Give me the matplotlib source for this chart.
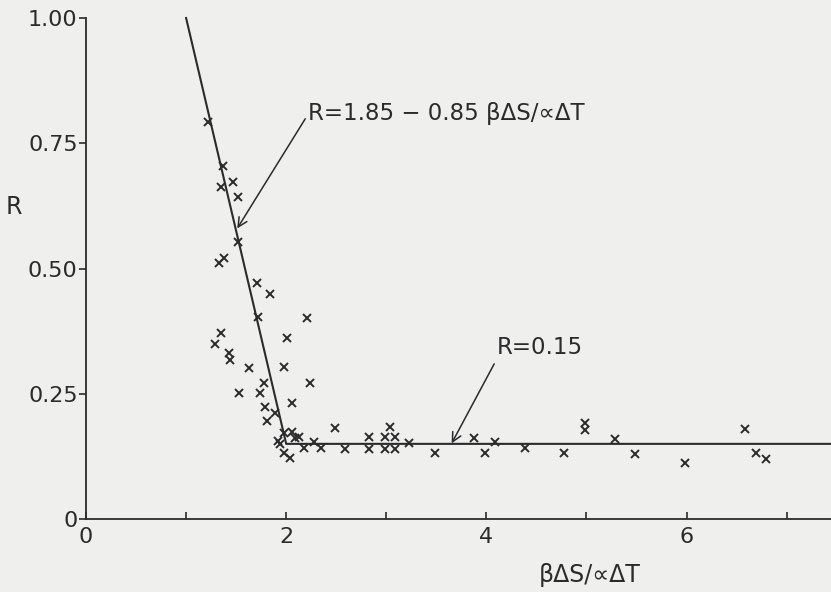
import matplotlib
matplotlib.use("Agg")
from matplotlib import pyplot as plt

# measured points, beta dS / alpha dT  vs  R
x_pts = [1.22, 1.37, 1.47, 1.35, 1.52, 1.52, 1.33, 1.38, 1.71, 1.84,
         1.72, 2.21, 1.35, 1.29, 2.01, 1.43, 1.44, 1.63, 1.98, 1.78,
         2.24, 1.53, 1.74, 2.06, 1.79, 1.89, 1.81, 2.49, 3.04, 1.98,
         2.06, 1.92, 1.94, 2.13, 2.09, 2.18, 2.28, 2.35, 1.98, 2.04,
         2.59, 2.83, 2.83, 2.99, 2.99, 3.09, 3.09, 3.23, 3.49, 3.88,
         3.99, 4.09, 4.39, 4.78, 4.99, 4.99, 5.29, 5.48, 5.98, 6.58,
         6.69, 6.79]
r_pts = [0.793, 0.705, 0.673, 0.662, 0.642, 0.553, 0.511, 0.520, 0.471, 0.450,
         0.403, 0.401, 0.371, 0.349, 0.361, 0.332, 0.317, 0.301, 0.303, 0.271,
         0.271, 0.251, 0.251, 0.231, 0.223, 0.212, 0.196, 0.182, 0.184, 0.172,
         0.174, 0.156, 0.150, 0.164, 0.161, 0.141, 0.153, 0.141, 0.131, 0.121,
         0.139, 0.164, 0.139, 0.164, 0.139, 0.164, 0.139, 0.152, 0.131, 0.161,
         0.131, 0.154, 0.141, 0.131, 0.192, 0.178, 0.160, 0.130, 0.111, 0.179,
         0.131, 0.119]

# fitted curve: R = 1.85 - 0.85 x, then R = 0.15
fit_x = [1.0, 2.0, 7.45]
fit_r = [1.0, 0.15, 0.15]

yticks = [0, 0.25, 0.5, 0.75, 1.0]
ytick_labels = ["0", "0.25", "0.50", "0.75", "1.00"]
xticks = [0, 2, 4, 6]
xtick_labels = ["0", "2", "4", "6"]
xminor = [1, 3, 5, 7]

bg = "#efefed"
ink = "#2b2b2b"

fig = plt.figure(figsize=(8.31, 5.92), dpi=100, facecolor=bg)
ax = fig.add_axes([0.1035, 0.1233, 0.8965, 0.8463])
ax.set_facecolor(bg)

ax.plot(fit_x, fit_r, color=ink, lw=1.5, clip_on=False)
ax.plot(x_pts, r_pts, ls="none", marker="x", ms=6, mew=1.4, color=ink)

ax.set_xlim(0, 7.443)
ax.set_ylim(0, 1.0)
for s in ["top", "right"]:
    ax.spines[s].set_visible(False)
for s in ["left", "bottom"]:
    ax.spines[s].set_color(ink)
    ax.spines[s].set_linewidth(1.3)

ax.set_yticks(yticks)
ax.set_yticklabels(ytick_labels)
ax.set_xticks(xticks)
ax.set_xticklabels(xtick_labels)
ax.set_xticks(xminor, minor=True)
ax.tick_params(axis="y", direction="out", length=5, width=1.2, color=ink,
               labelsize=16, labelcolor=ink, pad=1)
ax.tick_params(axis="x", which="both", direction="in", length=5, width=1.2,
               color=ink, labelsize=16, labelcolor=ink, pad=6)

ax.set_ylabel("R", rotation=0, fontsize=17, color=ink, va="center", ha="center")
ax.yaxis.set_label_coords(-0.097, 0.623)
fig.text(590 / 831, 1 - 575 / 592, "βΔS/∝ΔT", fontsize=17, color=ink,
         ha="center", va="center")

ax.annotate("R=1.85 − 0.85 βΔS/∝ΔT", xy=(1.511, 0.580), xytext=(2.218, 0.810),
            fontsize=16.5, color=ink, va="center", ha="left",
            arrowprops=dict(arrowstyle="->", color=ink, lw=1.1,
                            shrinkA=0, shrinkB=0, relpos=(0, 0.45)))
ax.annotate("R=0.15", xy=(3.653, 0.151), xytext=(4.106, 0.343),
            fontsize=16.5, color=ink, va="center", ha="left",
            arrowprops=dict(arrowstyle="->", color=ink, lw=1.1,
                            shrinkA=2, shrinkB=0, relpos=(0, 0)))

plt.savefig("out.png", dpi=100, facecolor=bg)
